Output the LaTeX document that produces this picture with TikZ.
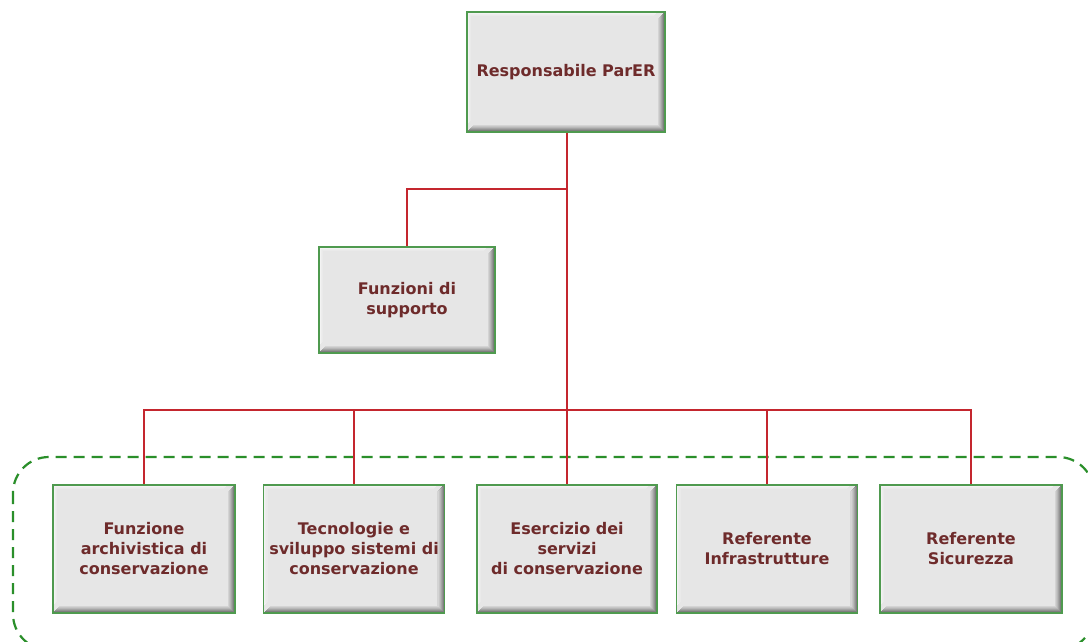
\documentclass[tikz,border=0pt]{standalone}
\usepackage{fontspec}
\setmainfont{DejaVu Sans}
\usetikzlibrary{calc}
\definecolor{txt}{HTML}{6E2B2B}
\definecolor{boxfill}{HTML}{E6E6E6}
\definecolor{boxedge}{HTML}{4F9A4F}
\definecolor{redline}{HTML}{C4262E}
\definecolor{dashgreen}{HTML}{2A8F2A}
\tikzset{
  x=1pt,y=1pt,
  orgbox/.style={draw=boxedge, line width=1.6pt, fill=boxfill, align=center,
    text=txt, font=\fontsize{16}{20}\selectfont\bfseries, inner sep=4pt,
    path picture={
      \foreach \i/\c in {0/55,1/45,2/36,3/28,4/20,5/14,6/8}{
        \draw[line width=1.05pt, line join=miter, boxfill!\the\numexpr100-\c\relax!black]
          ([xshift=-\i pt-0.5pt, yshift=-\i pt]path picture bounding box.north east)
          -- ([xshift=-\i pt-0.5pt, yshift=\i pt+0.5pt]path picture bounding box.south east)
          -- ([xshift=\i pt, yshift=\i pt+0.5pt]path picture bounding box.south west);
      }
      \foreach \i/\c in {0/70,1/50,2/30,3/15}{
        \draw[line width=1.05pt, line join=miter, boxfill!\the\numexpr100-\c\relax!white]
          ([xshift=\i pt+0.5pt, yshift=\i pt+8pt]path picture bounding box.south west)
          -- ([xshift=\i pt+0.5pt, yshift=-\i pt-0.5pt]path picture bounding box.north west)
          -- ([xshift=-\i pt-8pt, yshift=-\i pt-0.5pt]path picture bounding box.north east);
      }
    }},
  conn/.style={draw=redline, line width=1.6pt},
  group/.style={draw=dashgreen, line width=2.2pt, dash pattern=on 11pt off 7pt, rounded corners=36pt}
}
\begin{document}
\begin{tikzpicture}
\useasboundingbox (0,0) rectangle (1088,-641);
\fill[white] (0,0) rectangle (1088,-641);
\draw[group] (13,-457) rectangle (1094,-650);

\node[orgbox, minimum width=198pt, minimum height=120pt] (top) at (566,-72) {Responsabile ParER};
\node[orgbox, minimum width=176pt, minimum height=106pt] (fs) at (407,-300) {Funzioni di\\supporto};

\node[orgbox, minimum width=182pt, minimum height=128pt] (b1) at (144,-549) {Funzione\\archivistica di\\conservazione};
\node[orgbox, minimum width=181pt, minimum height=128pt] (b2) at (354,-549) {Tecnologie e\\sviluppo sistemi di\\conservazione};
\node[orgbox, minimum width=180pt, minimum height=128pt] (b3) at (567,-549) {Esercizio dei\\servizi\\di conservazione};
\node[orgbox, minimum width=181pt, minimum height=128pt] (b4) at (767,-549) {Referente\\Infrastrutture};
\node[orgbox, minimum width=182pt, minimum height=128pt] (b5) at (971,-549) {Referente\\Sicurezza};

\coordinate (j1) at (567,-189);
\coordinate (bus) at (567,-410);

\draw[conn] (top.south -| j1) -- (b3.north -| j1);
\draw[conn] (j1) -| (fs.north);
\draw[conn] (b1.north) -- (b1.north |- bus) -- (b5.north |- bus) -- (b5.north);
\draw[conn] (b2.north) -- (b2.north |- bus);
\draw[conn] (b4.north) -- (b4.north |- bus);
\end{tikzpicture}
\end{document}
